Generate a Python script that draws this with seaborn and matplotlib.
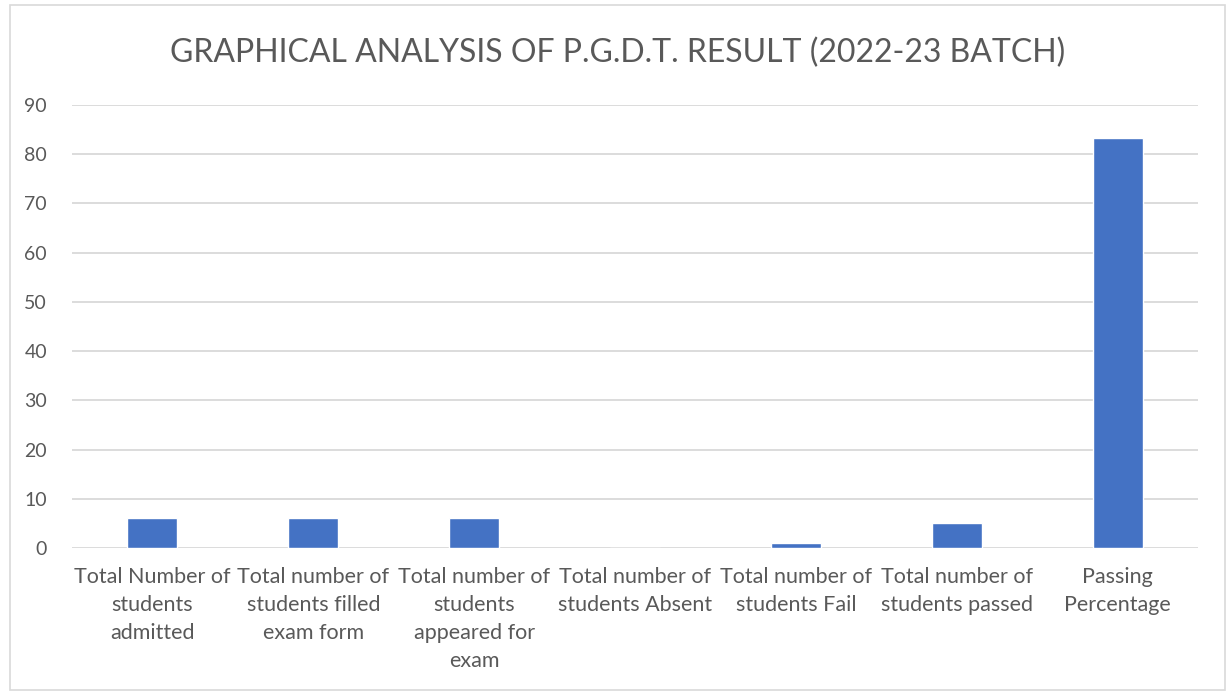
import matplotlib
matplotlib.use("Agg")
import matplotlib.pyplot as plt
import seaborn as sns
import pandas as pd
from matplotlib.patches import Rectangle

categories = [
    "Total Number of\nstudents\nadmitted",
    "Total number of\nstudents filled\nexam form",
    "Total number of\nstudents\nappeared for\nexam",
    "Total number of\nstudents Absent",
    "Total number of\nstudents Fail",
    "Total number of\nstudents passed",
    "Passing\nPercentage",
]
values = [6, 6, 6, 0, 1, 5, 83.33]
yticks = [0, 10, 20, 30, 40, 50, 60, 70, 80, 90]

sns.set_theme(style="white")
plt.rcParams["font.family"] = ["Lato", "DejaVu Sans"]

text_color = "#595959"
grid_color = "#d9d9d9"

df = pd.DataFrame({"category": categories, "value": values})

fig = plt.figure(figsize=(12.26, 6.93), dpi=100)
ax = fig.add_axes([72 / 1226, 1 - 548 / 693, (1198 - 72) / 1226, (548 - 105) / 693])

sns.barplot(data=df, x="category", y="value", color="#4472C4", width=0.31,
            saturation=1, ax=ax, zorder=3)

ax.set_ylim(0, 90)
ax.set_yticks(yticks)
ax.set_xlim(-0.5, len(categories) - 0.5)
ax.yaxis.grid(True, color=grid_color, linewidth=1.3, zorder=0)
ax.set_axisbelow(True)
for s in ax.spines.values():
    s.set_visible(False)
ax.tick_params(axis="both", length=0, colors=text_color)
ax.tick_params(axis="y", pad=18, labelsize=14)
ax.tick_params(axis="x", pad=14, labelsize=15.5)
ax.set_xlabel("")
ax.set_ylabel("")
for lbl in ax.get_xticklabels():
    lbl.set_linespacing(1.5)
    lbl.set_color(text_color)

fig.text(618 / 1226, 1 - 53 / 693, "GRAPHICAL ANALYSIS OF P.G.D.T. RESULT (2022-23 BATCH)",
         ha="center", va="center", fontsize=23, color=text_color)

fig.patches.append(Rectangle((10 / 1226, 1 - 690 / 693), 1215 / 1226, 685 / 693,
                             transform=fig.transFigure, fill=False,
                             edgecolor=grid_color, linewidth=1.2))

fig.savefig("out.png", dpi=100, facecolor="white")
